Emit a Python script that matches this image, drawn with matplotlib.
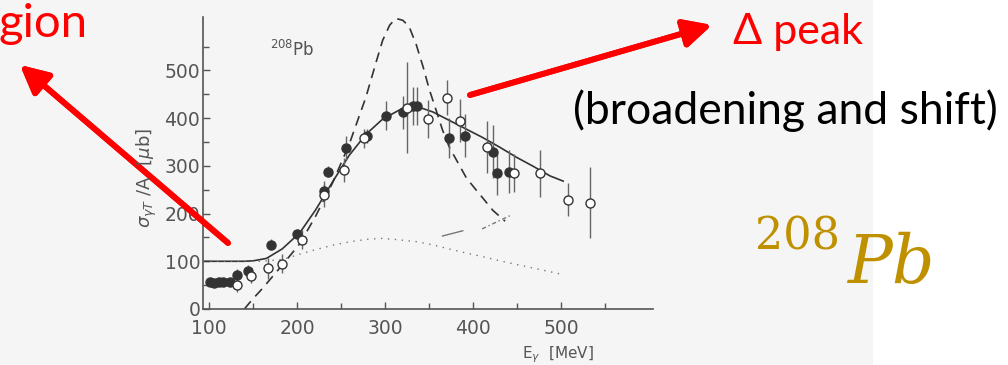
import matplotlib
matplotlib.use("Agg")
import matplotlib.pyplot as plt
from matplotlib.patches import Rectangle

# filled points: E [MeV], sigma/A [ub], error
e_full = [101, 106, 111, 116, 124, 132, 144, 170, 200, 230, 235, 255, 279, 301, 320, 331, 336, 372, 391, 422, 427, 440]
s_full = [57, 55, 57, 57, 57, 72, 80, 135, 158, 248, 288, 337, 363, 405, 412, 426, 426, 359, 363, 330, 284, 288]
d_full = [0, 0, 0, 0, 0, 12, 12, 12, 10, 20, 12, 25, 15, 30, 35, 40, 40, 42, 45, 55, 45, 45]

# open points
e_open = [132, 147, 167, 183, 205, 230, 253, 276, 325, 349, 370, 385, 416, 446, 476, 507, 532]
s_open = [51, 70, 85, 95, 145, 238, 292, 358, 422, 399, 443, 395, 340, 285, 284, 229, 223]
d_open = [15, 15, 22, 20, 20, 25, 25, 20, 95, 40, 37, 45, 55, 40, 50, 35, 75]

# full calculation (solid)
e_solid = [93, 120, 140, 150, 165, 183, 203, 221, 240, 259, 278, 297, 316, 335, 354, 373, 392, 411, 430, 449, 468, 487, 502]
s_solid = [100, 100, 100, 101, 106, 126, 160, 208, 266, 322, 366, 398, 417, 425, 413, 395, 377, 359, 339, 318, 299, 279, 268]

# free nucleon (dashed)
e_dash = [140, 149, 160, 183, 203, 221, 240, 259, 278, 290, 297, 305, 312, 320, 327, 335, 343, 350, 358, 365, 373, 383, 392, 402, 411, 422, 436]
s_dash = [0, 20, 42, 92, 137, 195, 264, 345, 444, 520, 563, 595, 609, 605, 592, 555, 507, 460, 415, 375, 338, 305, 275, 252, 232, 207, 184]

# background (dotted)
e_dot = [93, 160, 184, 203, 222, 241, 260, 279, 295, 310, 336, 355, 370, 390, 410, 430, 450, 470, 490, 502]
s_dot = [100, 100, 104, 115, 125, 134, 141, 146, 148, 146, 141, 134, 127, 118, 110, 101, 93, 85, 77, 72]

# stray pen marks in the scan
e_mark1 = [365, 388]
s_mark1 = [153, 164]
e_mark2 = [410, 442]
s_mark2 = [168, 196]

W, H = 1008, 365
fig = plt.figure(figsize=(W / 100, H / 100), dpi=100, facecolor='white')

# scanned page area
fig.add_artist(Rectangle((0, 0), 873 / W, 1, transform=fig.transFigure,
                         facecolor='#f5f5f5', edgecolor='none', zorder=0))

ax = fig.add_axes([203 / W, 1 - 309 / H, 450 / W, 292 / H])
ax.set_facecolor('none')
ax.set_xlim(93, 604)
ax.set_ylim(0, 612)

ink = '#333333'
grey = '#555555'

ax.plot(e_solid, s_solid, color=ink, lw=1.2)
ax.plot(e_dash, s_dash, color=ink, lw=1.2, dashes=(6, 4))
ax.plot(e_dot, s_dot, color='#777777', lw=1.0, dashes=(1, 4))
ax.plot(e_mark1, s_mark1, color='#777777', lw=1.0)
ax.plot(e_mark2, s_mark2, color='#777777', lw=1.0, dashes=(3, 2, 1, 2))

ax.errorbar(e_full, s_full, yerr=d_full, fmt='o', ms=6.5, color=ink,
            mfc=ink, mec=ink, ecolor='#666666', elinewidth=1.0, capsize=0, zorder=3)
ax.errorbar(e_open, s_open, yerr=d_open, fmt='o', ms=6.5, color=ink,
            mfc='white', mec=ink, mew=1.0, ecolor='#666666', elinewidth=1.0, capsize=0, zorder=3)

for s in ['top', 'right']:
    ax.spines[s].set_visible(False)
for s in ['left', 'bottom']:
    ax.spines[s].set_color(grey)
    ax.spines[s].set_linewidth(1.2)

ax.set_xticks([100, 200, 300, 400, 500])
ax.set_xticks([150, 250, 350, 450, 550], minor=True)
ax.set_yticks([0, 100, 200, 300, 400, 500])
ax.set_yticks([50, 150, 250, 350, 450, 550], minor=True)
ax.tick_params(which='both', direction='in', color=grey, labelcolor=grey,
               labelsize=13.5, width=1.0)
ax.tick_params(which='major', length=5)
ax.tick_params(which='minor', length=4)
ax.tick_params(axis='x', pad=7)
ax.tick_params(axis='y', pad=2)

ax.text(169, 531, r'$^{208}$Pb', fontsize=12, color=grey)

fig.text(147 / W, 1 - 178 / H, r'$\sigma_{\gamma T}$ /A  [$\mu$b]', rotation=90,
         ha='center', va='center', fontsize=13, color=grey)
fig.text(558 / W, 1 - 355 / H, r'E$_\gamma$  [MeV]', ha='center', va='center',
         fontsize=11, color=grey)

# slide annotations
red = '#ff0000'
fig.text(-2 / W, 1 - 37 / H, 'gion', fontsize=34, color=red,
         family=['Lato', 'DejaVu Sans'], ha='left', va='baseline')
fig.text(733 / W, 1 - 44 / H, '\u0394 peak', fontsize=31, color=red,
         family=['Lato', 'DejaVu Sans'], ha='left', va='baseline')
fig.text(573 / W, 1 - 124 / H, '(broadening and shift)', fontsize=32, color='black',
         family=['Lato', 'DejaVu Sans'], ha='left', va='baseline')

arrow = dict(arrowstyle='-|>', color=red, lw=4.2, mutation_scale=42,
             shrinkA=0, shrinkB=0)
fig.add_artist(plt.annotate('', xy=(20, H - 65), xycoords='figure pixels',
                            xytext=(228, H - 243), textcoords='figure pixels',
                            arrowprops=arrow))
fig.add_artist(plt.annotate('', xy=(712, H - 25), xycoords='figure pixels',
                            xytext=(470, H - 95), textcoords='figure pixels',
                            arrowprops=arrow))

gold = '#bf9000'
fig.text(755 / W, 1 - 250 / H, '208', fontsize=32, color=gold,
         family='DejaVu Serif', ha='left', va='baseline')
fig.text(847 / W, 1 - 283 / H, 'Pb', fontsize=48, color=gold,
         family='DejaVu Serif', style='italic', ha='left', va='baseline')

fig.savefig('out.png', dpi=100, facecolor='white')
